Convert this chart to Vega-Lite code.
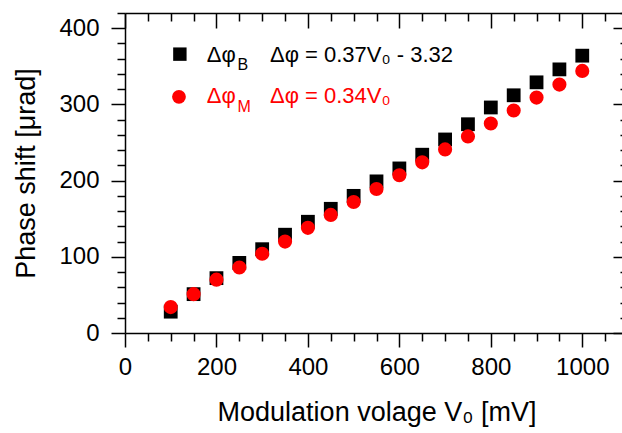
{
  "$schema": "https://vega.github.io/schema/vega-lite/v6.json",
  "width": 497,
  "height": 320,
  "autosize": {"type": "none"},
  "padding": {"left": 125, "top": 13, "right": 0, "bottom": 100},
  "background": "white",
  "datasets": {
    "shift": [
      {"V": 100, "phase": 28, "series": "B"},
      {"V": 150, "phase": 51, "series": "B"},
      {"V": 200, "phase": 72, "series": "B"},
      {"V": 250, "phase": 92, "series": "B"},
      {"V": 300, "phase": 110, "series": "B"},
      {"V": 350, "phase": 129, "series": "B"},
      {"V": 400, "phase": 146, "series": "B"},
      {"V": 450, "phase": 163, "series": "B"},
      {"V": 500, "phase": 180, "series": "B"},
      {"V": 550, "phase": 199, "series": "B"},
      {"V": 600, "phase": 216, "series": "B"},
      {"V": 650, "phase": 234, "series": "B"},
      {"V": 700, "phase": 254, "series": "B"},
      {"V": 750, "phase": 274, "series": "B"},
      {"V": 800, "phase": 296, "series": "B"},
      {"V": 850, "phase": 312, "series": "B"},
      {"V": 900, "phase": 329, "series": "B"},
      {"V": 950, "phase": 346, "series": "B"},
      {"V": 1000, "phase": 364, "series": "B"},
      {"V": 100, "phase": 34, "series": "M"},
      {"V": 150, "phase": 51, "series": "M"},
      {"V": 200, "phase": 70, "series": "M"},
      {"V": 250, "phase": 86, "series": "M"},
      {"V": 300, "phase": 104, "series": "M"},
      {"V": 350, "phase": 120, "series": "M"},
      {"V": 400, "phase": 138, "series": "M"},
      {"V": 450, "phase": 155, "series": "M"},
      {"V": 500, "phase": 172, "series": "M"},
      {"V": 550, "phase": 189, "series": "M"},
      {"V": 600, "phase": 207, "series": "M"},
      {"V": 650, "phase": 224, "series": "M"},
      {"V": 700, "phase": 241, "series": "M"},
      {"V": 750, "phase": 258, "series": "M"},
      {"V": 800, "phase": 275, "series": "M"},
      {"V": 850, "phase": 292, "series": "M"},
      {"V": 900, "phase": 309, "series": "M"},
      {"V": 950, "phase": 326, "series": "M"},
      {"V": 1000, "phase": 344, "series": "M"}
    ],
    "keySymbols": [
      {"V": 120, "phase": 366, "series": "B"},
      {"V": 118, "phase": 310, "series": "M"}
    ],
    "keyText": [
      {"V": 179, "phase": 355.7, "series": "B", "label": "Δφ"},
      {"V": 317, "phase": 355.7, "series": "B", "label": "Δφ = 0.37V₀ - 3.32"},
      {"V": 179, "phase": 301.9, "series": "M", "label": "Δφ"},
      {"V": 317, "phase": 301.9, "series": "M", "label": "Δφ = 0.34V₀"}
    ],
    "keySub": [
      {"V": 246, "phase": 345, "series": "B", "label": "B"},
      {"V": 246, "phase": 290, "series": "M", "label": "M"}
    ]
  },
  "resolve": {"axis": {"x": "independent", "y": "independent"}},
  "layer": [
    {
      "data": {"name": "shift"},
      "transform": [{"filter": "datum.series === 'B'"}],
      "mark": {"type": "point", "shape": "square", "filled": true, "size": 190, "opacity": 1, "color": "black"},
      "encoding": {
        "x": {
          "field": "V", "type": "quantitative",
          "scale": {"domain": [0, 1100], "range": [0, 503], "nice": false, "zero": false},
          "axis": {
            "orient": "bottom", "title": "Modulation volage V₀ [mV]",
            "values": [0, 200, 400, 600, 800, 1000], "format": "d",
            "tickSize": 14, "labelPadding": 8, "labelFontSize": 24, "labelFlush": false,
            "labelOverlap": false, "titleFontSize": 27, "titlePadding": 20
          }
        },
        "y": {
          "field": "phase", "type": "quantitative",
          "scale": {"domain": [0, 420], "nice": false, "zero": false},
          "axis": {
            "orient": "left", "title": "Phase shift [μrad]",
            "values": [0, 100, 200, 300, 400], "format": "d",
            "tickSize": 14, "labelPadding": 12, "labelFontSize": 24, "labelOverlap": false,
            "titleFontSize": 27, "titlePadding": 18
          }
        }
      }
    },
    {
      "data": {"name": "shift"},
      "transform": [{"filter": "datum.series === 'M'"}],
      "mark": {"type": "circle", "size": 200, "opacity": 1, "color": "red"},
      "encoding": {
        "x": {
          "field": "V", "type": "quantitative",
          "scale": {"domain": [0, 1100], "range": [0, 503], "nice": false, "zero": false},
          "axis": {
            "orient": "bottom", "title": null, "labels": false, "domain": false,
            "values": [50, 100, 150, 250, 300, 350, 450, 500, 550, 650, 700, 750, 850, 900, 950, 1050, 1100],
            "tickSize": 8
          }
        },
        "y": {
          "field": "phase", "type": "quantitative",
          "scale": {"domain": [0, 420], "nice": false, "zero": false},
          "axis": {
            "orient": "left", "title": null, "labels": false, "domain": false,
            "values": [20, 40, 60, 80, 120, 140, 160, 180, 220, 240, 260, 280, 320, 340, 360, 380, 420],
            "tickSize": 8
          }
        }
      }
    },
    {
      "data": {"name": "keySymbols"},
      "transform": [{"filter": "datum.series === 'B'"}],
      "mark": {"type": "point", "shape": "square", "filled": true, "size": 180, "opacity": 1, "color": "black"},
      "encoding": {
        "x": {
          "field": "V", "type": "quantitative",
          "scale": {"domain": [0, 1100], "range": [0, 503], "nice": false, "zero": false},
          "axis": {
            "orient": "top", "title": null, "labels": false,
            "values": [0, 200, 400, 600, 800, 1000],
            "tickSize": -15
          }
        },
        "y": {
          "field": "phase", "type": "quantitative",
          "scale": {"domain": [0, 420], "nice": false, "zero": false},
          "axis": {
            "orient": "right", "title": null, "labels": false, "domain": false,
            "values": [0, 100, 200, 300, 400],
            "tickSize": -9
          }
        }
      }
    },
    {
      "data": {"name": "keySymbols"},
      "transform": [{"filter": "datum.series === 'M'"}],
      "mark": {"type": "circle", "size": 190, "opacity": 1, "color": "red"},
      "encoding": {
        "x": {
          "field": "V", "type": "quantitative",
          "scale": {"domain": [0, 1100], "range": [0, 503], "nice": false, "zero": false},
          "axis": {
            "orient": "top", "title": null, "labels": false, "domain": false,
            "values": [50, 100, 150, 250, 300, 350, 450, 500, 550, 650, 700, 750, 850, 900, 950, 1050, 1100],
            "tickSize": -8
          }
        },
        "y": {
          "field": "phase", "type": "quantitative",
          "scale": {"domain": [0, 420], "nice": false, "zero": false},
          "axis": {
            "orient": "right", "title": null, "labels": false, "domain": false,
            "values": [20, 40, 60, 80, 120, 140, 160, 180, 220, 240, 260, 280, 320, 340, 360, 380, 420],
            "tickSize": -2
          }
        }
      }
    },
    {
      "data": {"name": "keyText"},
      "mark": {"type": "text", "align": "left", "baseline": "alphabetic", "fontSize": 22, "font": "Liberation Sans"},
      "encoding": {
        "x": {"field": "V", "type": "quantitative", "axis": null},
        "y": {"field": "phase", "type": "quantitative", "axis": null},
        "text": {"field": "label"},
        "color": {"field": "series", "type": "nominal", "scale": {"domain": ["B", "M"], "range": ["black", "red"]}, "legend": null}
      }
    },
    {
      "data": {"name": "keySub"},
      "mark": {"type": "text", "align": "left", "baseline": "alphabetic", "fontSize": 16, "font": "Liberation Sans"},
      "encoding": {
        "x": {"field": "V", "type": "quantitative", "axis": null},
        "y": {"field": "phase", "type": "quantitative", "axis": null},
        "text": {"field": "label"},
        "color": {"field": "series", "type": "nominal", "scale": {"domain": ["B", "M"], "range": ["black", "red"]}, "legend": null}
      }
    }
  ],
  "config": {
    "view": {"stroke": null},
    "axis": {
      "grid": false,
      "domainColor": "black", "domainWidth": 1.5,
      "tickColor": "black", "tickWidth": 1.5,
      "labelColor": "black", "titleColor": "black",
      "labelFont": "Liberation Sans", "titleFont": "Liberation Sans",
      "titleFontWeight": "normal"
    }
  }
}
